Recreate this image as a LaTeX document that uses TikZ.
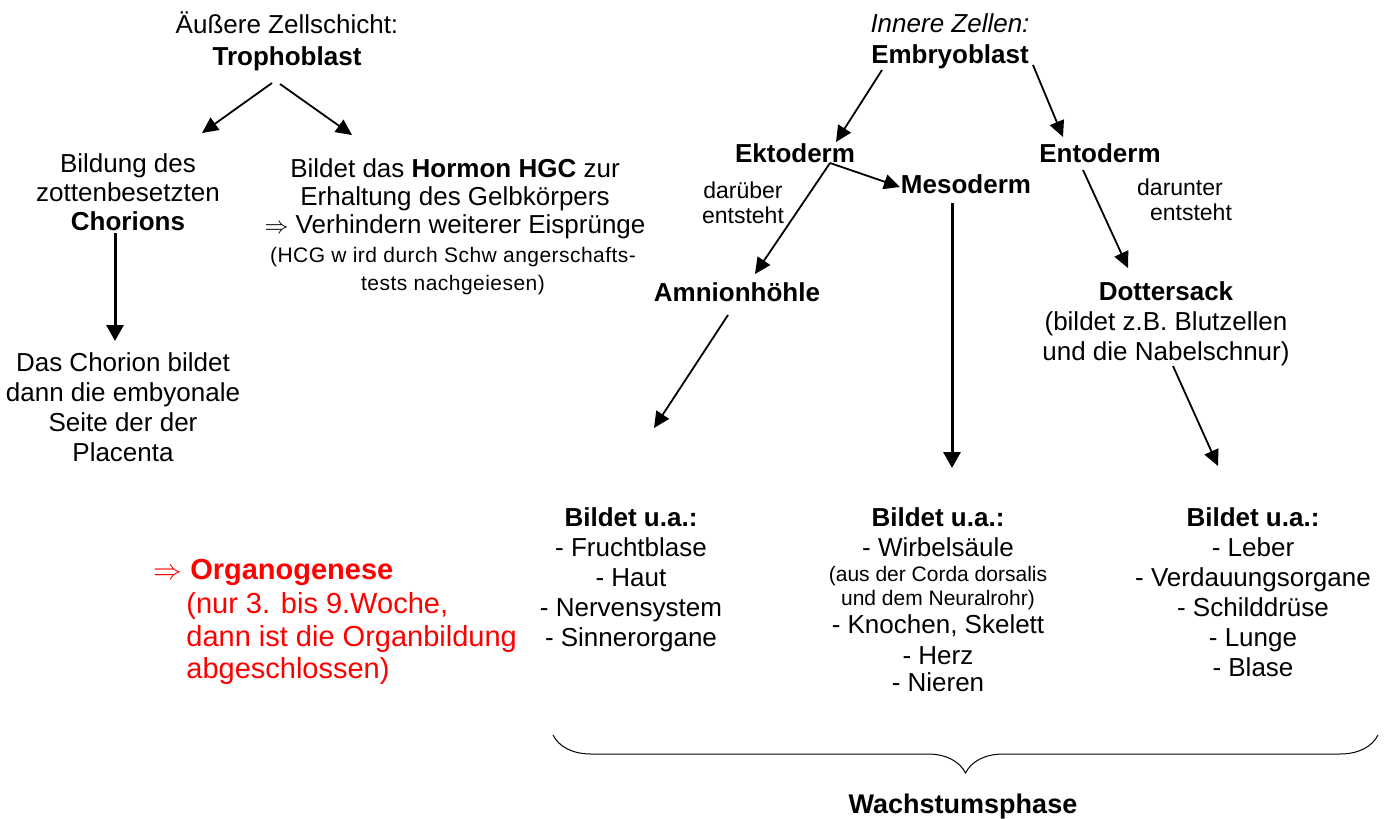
\documentclass[tikz,border=0pt]{standalone}
\usepackage{fontspec}
\setmainfont{Liberation Sans}
\usetikzlibrary{arrows.meta,decorations.pathreplacing}
\tikzset{
 emb text/.style={font=\fontsize{13}{15}\selectfont,align=center,inner sep=0pt,anchor=base},
 emb bold/.style={emb text,font=\fontsize{13}{15}\selectfont\bfseries},
 emb note/.style={emb text,font=\fontsize{10.5}{14}\selectfont\addfontfeature{LetterSpace=2.2}},
 emb side/.style={emb text,font=\fontsize{11.5}{12.5}\selectfont},
 emb red/.style={font=\fontsize{14.5}{16.5}\selectfont,align=left,inner sep=0pt,
                 anchor=base west,text=red},
 emb arrow/.style={-{Triangle[length=8pt,width=7.5pt]},line width=.9pt},
 emb stem/.style={-{Triangle[length=8pt,width=8.5pt]},line width=1.5pt}
}
\begin{document}
\begin{tikzpicture}[x=.5pt,y=-.5pt]
 \useasboundingbox (0,0) rectangle (1389,819);
 % arrow ends
 \coordinate (tr-l) at (272,83);   \coordinate (ch-in) at (202,133);
 \coordinate (tr-r) at (280,84);   \coordinate (ho-in) at (352,135);
 \coordinate (ch-out) at (115,233); \coordinate (pl-in) at (115,341);
 \coordinate (em-l) at (882,70);   \coordinate (ek-in) at (836,142);
 \coordinate (em-r) at (1033,65);  \coordinate (en-in) at (1063,137);
 \coordinate (ek-out) at (830,163);
 \coordinate (me-in) at (900,187); \coordinate (am-in) at (755,274);
 \coordinate (me-out) at (952,203); \coordinate (ml-in) at (952,468);
 \coordinate (en-out) at (1083,170); \coordinate (do-in) at (1128,268);
 \coordinate (am-out) at (728,315); \coordinate (al-in) at (654,428);
 \coordinate (do-out) at (1173,366); \coordinate (dl-in) at (1218,466);
 \coordinate (br-l) at (553,735);  \coordinate (br-r) at (1378,735);

 % Trophoblast side (multi-line nodes sit on their last line)
 \node[emb text,font=\fontsize{13}{16}\selectfont] (troph) at (287,65)
   {Äußere Zellschicht:\\\textbf{Trophoblast}};
 \node[emb text,font=\fontsize{13}{14.5}\selectfont] (bildung) at (128,230)
   {Bildung des\\zottenbesetzten\\\textbf{Chorions}};
 \node[emb text] (placenta) at (123,461)
   {Das Chorion bildet\\dann die embyonale\\Seite der der\\Placenta};
 \node[emb text,font=\fontsize{13}{14}\selectfont] (hormon) at (455,233)
   {Bildet das \textbf{Hormon HGC} zur\\Erhaltung des Gelbkörpers\\
    $\Rightarrow$ Verhindern weiterer Eisprünge};
 \node[emb note] (hcg) at (453,290)
   {(HCG w ird durch Schw angerschafts-\\tests nachgeiesen)};

 % Embryoblast side
 \node[emb text,font=\fontsize{13}{15.5}\selectfont] (embryo) at (950,63)
   {\textit{Innere Zellen:}\\\textbf{Embryoblast}};
 \node[emb bold] (ekto) at (795,162) {Ektoderm};
 \node[emb bold] (ento) at (1100,162) {Entoderm};
 \node[emb bold] (meso) at (966,193) {Mesoderm};
 \node[emb side] (drueber) at (743,223) {darüber\\entsteht};
 \node[emb side] (drunter) at (1180,220) {darunter\\\hspace*{11pt}entsteht};
 \node[emb bold] (amnion) at (737,301) {Amnionhöhle};
 \node[emb text] (dotter) at (1166,360)
   {\textbf{Dottersack}\\(bildet z.B. Blutzellen\\und die Nabelschnur)};

 % lists
 \node[emb text] (ektoliste) at (631,646)
   {\textbf{Bildet u.a.:}\\- Fruchtblase\\- Haut\\- Nervensystem\\- Sinnerorgane};
 \node[emb text] (mesoliste) at (938,691)
   {\textbf{Bildet u.a.:}\\- Wirbelsäule\\[-2.5pt]
    {\fontsize{10.5}{12}\selectfont (aus der Corda dorsalis}\\[-3pt]
    {\fontsize{10.5}{12}\selectfont und dem Neuralrohr)}\\[-1pt]
    - Knochen, Skelett\\[.5pt]- Herz\\[-1.5pt]- Nieren};
 \node[emb text] (entoliste) at (1253,676)
   {\textbf{Bildet u.a.:}\\- Leber\\- Verdauungsorgane\\- Schilddrüse\\- Lunge\\- Blase};
 \node[emb red] (organo) at (153,678)
   {$\Rightarrow$ \textbf{Organogenese}\\[.5pt]
    \hspace*{16.5pt}(nur 3. bis 9.Woche,\\
    \hspace*{16.5pt}dann ist die Organbildung\\[-.5pt]
    \hspace*{16.5pt}abgeschlossen)};
 \node[emb bold,font=\fontsize{13.5}{16}\selectfont\bfseries] (wachstum) at (963,813)
   {Wachstumsphase};

 % arrows
 \draw[emb arrow] (tr-l) -- (ch-in);
 \draw[emb arrow] (tr-r) -- (ho-in);
 \draw[emb stem] (ch-out) -- (pl-in);
 \draw[emb arrow] (em-l) -- (ek-in);
 \draw[emb arrow] (em-r) -- (en-in);
 \draw[emb arrow] (ek-out) -- (me-in);
 \draw[emb arrow] (ek-out) -- (am-in);
 \draw[emb stem] (me-out) -- (ml-in);
 \draw[emb arrow] (en-out) -- (do-in);
 \draw[emb arrow] (am-out) -- (al-in);
 \draw[emb arrow] (do-out) -- (dl-in);
 \draw[line width=.5pt,decorate,decoration={brace,mirror,amplitude=19pt}] (br-l) -- (br-r);
\end{tikzpicture}
\end{document}
